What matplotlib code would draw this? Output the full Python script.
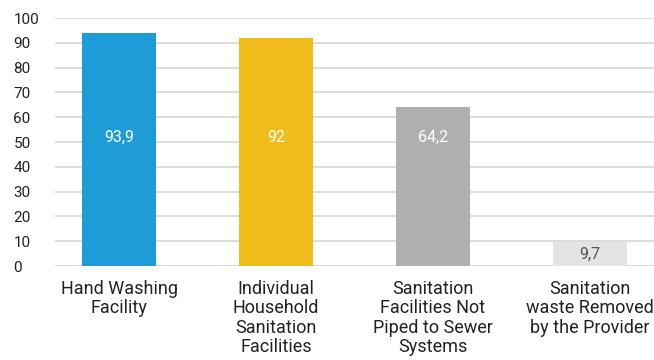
import matplotlib
matplotlib.use('Agg')
import matplotlib.pyplot as plt

categories = ['Hand Washing\nFacility', 'Individual\nHousehold\nSanitation\nFacilities',
              'Sanitation\nFacilities Not\nPiped to Sewer\nSystems', 'Sanitation\nwaste Removed\nby the Provider']
values = [93.9, 92, 64.2, 9.7]
value_labels = ['93,9', '92', '64,2', '9,7']
colors = ['#1E9CD7', '#F0BC19', '#AFAFB0', '#E3E3E2']
label_colors = ['white', 'white', 'white', '#555555']
yticks = list(range(0, 101, 10))

plt.rcParams['font.family'] = ['Roboto', 'DejaVu Sans']

fig = plt.figure(figsize=(6.54, 3.6), dpi=100)
ax = fig.add_axes([55/654, 94/360, 599/654, 248/360])

x = list(range(len(values)))
ax.bar(x, values, width=0.47, color=colors, zorder=3)
for xi, v, lab, c in zip(x, values, value_labels, label_colors):
    ax.text(xi, 52 if v > 20 else v / 2, lab, ha='center', va='center', color=c, fontsize=11.5, zorder=4)

ax.set_ylim(0, 100)
ax.set_xlim(-0.408, 3.408)
ax.set_yticks(yticks)
ax.set_yticklabels([str(t) for t in yticks], ha='left')
ax.tick_params(axis='y', length=0, pad=30, labelsize=11, labelcolor='#222222')
ax.set_xticks(x)
ax.set_xticklabels(categories, fontsize=13, color='#222222', linespacing=1.1)
ax.tick_params(axis='x', length=0, pad=10)
ax.grid(axis='y', color='#D6D6D6', linewidth=1.2, zorder=0)
for s in ax.spines.values():
    s.set_visible(False)

fig.savefig('out.png', dpi=100)
